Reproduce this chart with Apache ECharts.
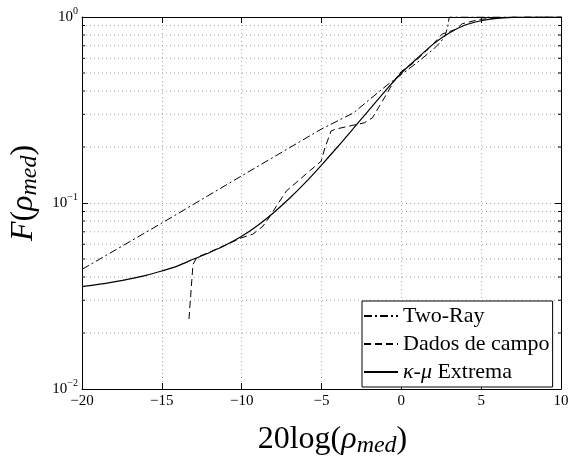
<!DOCTYPE html>
<html>
<head>
<meta charset="utf-8">
<script src="https://cdn.jsdelivr.net/npm/echarts@6/dist/echarts.min.js"></script>
<style>html,body{margin:0;padding:0;background:#fff;}#c{width:575px;height:457px;}</style>
</head>
<body>
<div id="c"></div>
<script>
// ---- data ----
const xMin = -20, xMax = 10, xStep = 5;
const yMin = 0.01, yMax = 1;
const minorY = [0.02,0.03,0.04,0.05,0.06,0.07,0.08,0.09,0.2,0.3,0.4,0.5,0.6,0.7,0.8,0.9];

const twoRayX = [-20,-15,-10,-5,-3,-1.5,-0.75,0,1,2,2.5,2.75,2.9,3,10];
const twoRayY = [0.044,0.078,0.14,0.25,0.305,0.39,0.44,0.49,0.57,0.67,0.74,0.80,0.88,1.0,1.0];

const campoX = [-13.3,-13.05,-12.8,-12,-11,-10,-9.3,-8.67,-8.3,-7.83,-7.2,-6.1,-5.02,-4.81,-4.4,-4.08,-2.31,-1.81,-1.06,-0.56,-0.25,0,0.69,1.75,2.56,3.44,3.81,4.88,6,7,10];
const campoY = [0.0238,0.0468,0.051,0.0545,0.0595,0.065,0.068,0.075,0.083,0.096,0.116,0.14,0.168,0.195,0.244,0.25,0.27,0.287,0.368,0.436,0.48,0.51,0.56,0.68,0.81,0.86,0.92,0.97,0.99,1.0,1.0];

const kmX = [-20,-19,-18,-17,-16,-15,-14,-13,-12,-11,-10,-9,-8,-7,-6,-5,-4,-3,-2,-1,0,1,2,3,4,5,6,7,8,9,10];
const kmY = [0.0355,0.0365,0.0377,0.0391,0.0408,0.0431,0.0459,0.050,0.0542,0.0594,0.0662,0.0757,0.0887,0.106,0.129,0.160,0.200,0.252,0.318,0.401,0.50,0.60,0.715,0.82,0.905,0.955,0.983,0.995,0.999,1.0,1.0];

const names = ['Two-Ray','Dados de campo','κ-μ Extrema'];

const zip = (a,b) => a.map((v,i)=>[v,b[i]]);
const FF = 'Liberation Serif';

const chart = echarts.init(document.getElementById('c'), null, {renderer:'canvas'});
const gridStroke = '#a8a8a8';
const titleRich = {
  r:{fontFamily:FF, fontSize:32, color:'#000'},
  i:{fontFamily:FF, fontSize:32, fontStyle:'italic', color:'#000'},
  s:{fontFamily:FF, fontSize:24, fontStyle:'italic', color:'#000', padding:[12,0,0,0]}
};
chart.setOption({
  animation:false,
  backgroundColor:'#fff',
  grid:{left:82, right:14, top:17, bottom:68, containLabel:false, outerBoundsMode:'none'},
  legend:{
    data:names, orient:'vertical', left:362, top:301,
    padding:[4,3,4,1], itemGap:6, itemWidth:34, itemHeight:14, itemTextGap:3,
    backgroundColor:'#fff', borderColor:'#000', borderWidth:1, borderRadius:0,
    itemStyle:{opacity:0, color:'transparent', borderWidth:0},
    textStyle:{fontFamily:FF, fontSize:22, color:'#000', lineHeight:22,
      rich:{i:{fontFamily:FF, fontStyle:'italic', fontSize:22, color:'#000'}}},
    formatter: n => n === 'κ-μ Extrema' ? '{i|κ}-{i|μ} Extrema' : n
  },
  xAxis:[{
    type:'value', min:xMin, max:xMax, interval:xStep, position:'bottom',
    axisLine:{onZero:false, lineStyle:{color:'#000', width:1}},
    axisTick:{inside:true, length:6, lineStyle:{color:'#000'}},
    axisLabel:{fontFamily:FF, fontSize:15, color:'#000', margin:5,
      formatter: v => (v<0 ? '−'+Math.abs(v) : String(v))},
    splitLine:{show:true, lineStyle:{color:gridStroke, type:[1,3], width:1}},
    name:'{r|20log(}{i|ρ}{s|med}{r|)}', nameLocation:'middle', nameGap:33,
    nameTextStyle:{padding:[0,0,0,22], rich:titleRich}
  },{
    type:'value', min:xMin, max:xMax, interval:xStep, position:'top',
    axisLine:{onZero:false, lineStyle:{color:'#000', width:1}},
    axisTick:{inside:true, length:6, lineStyle:{color:'#000'}},
    axisLabel:{show:false}, splitLine:{show:false}
  }],
  yAxis:[{
    type:'log', logBase:10, min:yMin, max:yMax, position:'left',
    axisLine:{show:true, onZero:false, lineStyle:{color:'#000', width:1}},
    axisTick:{show:true, inside:true, length:6, lineStyle:{color:'#000'}},
    axisLabel:{fontFamily:FF, fontSize:15, color:'#000', margin:4,
      formatter: v => { const e = Math.round(Math.log10(v)); return '{b|10}{s|' + (e<0?'−'+(-e):String(e)) + '}'; },
      rich:{b:{fontFamily:FF, fontSize:15, color:'#000'}, s:{fontFamily:FF, fontSize:10, color:'#000', padding:[0,0,12,0]}}},
    splitLine:{show:true, lineStyle:{color:gridStroke, type:[1,3], width:1}},
    name:'{i|F}{r|(}{i|ρ}{s|med}{r|)}', nameLocation:'middle', nameRotate:90, nameGap:31,
    nameTextStyle:{padding:[0,0,0,20], rich:titleRich}
  },{
    type:'log', logBase:10, min:yMin, max:yMax, position:'right',
    axisLine:{show:true, onZero:false, lineStyle:{color:'#000', width:1}},
    axisTick:{show:true, inside:true, length:6, lineStyle:{color:'#000'}},
    axisLabel:{show:false}, splitLine:{show:false}
  }],
  series:[
    {
      type:'custom', name:'minor', z:1, silent:true, xAxisIndex:0, yAxisIndex:0,
      data: minorY.map(v=>[xMin, v]),
      encode:{x:0, y:1},
      clip:false,
      renderItem:(params, api) => {
        const v = api.value(1);
        const p0 = api.coord([xMin, v]);
        const p1 = api.coord([xMax, v]);
        return {type:'group', children:[
          {type:'line', shape:{x1:p0[0], y1:p0[1], x2:p1[0], y2:p1[1]}, style:{stroke:gridStroke, lineWidth:1, lineDash:[1,3]}},
          {type:'line', shape:{x1:p0[0], y1:p0[1], x2:p0[0]+3, y2:p0[1]}, style:{stroke:'#000', lineWidth:1}},
          {type:'line', shape:{x1:p1[0]-3, y1:p1[1], x2:p1[0], y2:p1[1]}, style:{stroke:'#000', lineWidth:1}}
        ]};
      }
    },
    {name:names[0], type:'line', data:zip(twoRayX, twoRayY), symbol:'none', z:3,
     lineStyle:{color:'#000', width:1, type:[8,3,2,3]}, itemStyle:{color:'#000'}},
    {name:names[1], type:'line', data:zip(campoX, campoY), symbol:'none', z:3,
     lineStyle:{color:'#000', width:1, type:[7,4]}, itemStyle:{color:'#000'}},
    {name:names[2], type:'line', data:zip(kmX, kmY), symbol:'none', z:3, smooth:0.3,
     lineStyle:{color:'#000', width:1.2, type:'solid'}, itemStyle:{color:'#000'}}
  ]
});
</script>
</body>
</html>
